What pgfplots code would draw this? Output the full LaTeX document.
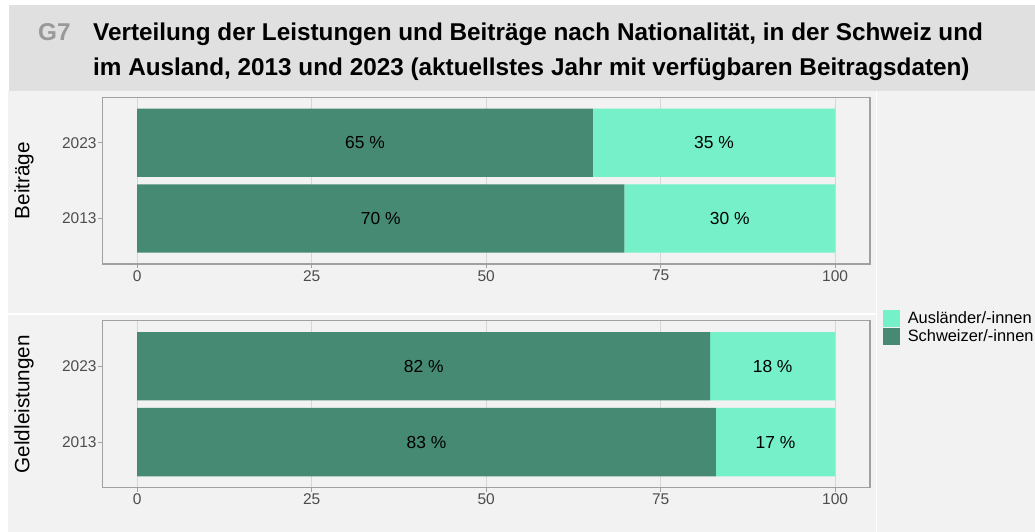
\documentclass[border=0pt]{standalone}
\usepackage{fontspec}
\setmainfont{Liberation Sans}
\usepackage{pgfplots}
\pgfplotsset{compat=1.18}

\definecolor{chdark}{HTML}{468A73}
\definecolor{chlight}{HTML}{75F0C8}
\definecolor{bandgrey}{HTML}{E0E0E0}
\definecolor{panelbg}{HTML}{F2F2F2}
\definecolor{boxgrey}{HTML}{A0A0A0}
\definecolor{gridgrey}{HTML}{D6D6D6}
\definecolor{ticktext}{HTML}{4D4D4D}

\pgfplotsset{
  panel/.style={
    scale only axis,
    width=767.7pt,
    anchor=south west,
    xmin=-5, xmax=105,
    ymin=0.4, ymax=2.6,
    xtick={0,25,50,75,100},
    ytick={1,2},
    yticklabels={2013,2023},
    tick pos=left,
    tick align=outside,
    major tick length=4pt,
    tick style={draw=boxgrey, line width=0.8pt},
    axis line style={draw=boxgrey, line width=1.3pt},
    xmajorgrids,
    grid style={draw=gridgrey, line width=1pt},
    /pgf/number format/assume math mode=true,
    ticklabel style={font=\fontsize{15.5}{18}\selectfont, text=ticktext},
    yticklabel style={inner sep=1.5pt},
    xticklabel style={inner sep=2pt},
    clip=false,
  },
  bars/.style={
    panel,
    xbar stacked,
    bar width=0.9,
    every axis y label/.style={at={(axis description cs:-0.102,0.5)}, rotate=90,
      anchor=center, font=\fontsize{20.7}{24}\selectfont},
  },
  labels/.style={
    panel,
    hide axis,
    nodes near coords,
    point meta=explicit symbolic,
    every node near coord/.style={anchor=center, font=\fontsize{17.4}{20}\selectfont, text=black},
  },
}

\begin{document}
\begin{tikzpicture}
\useasboundingbox (0pt,0pt) rectangle (1035pt,532pt);
\fill[white] (0pt,0pt) rectangle (1035pt,532pt);
\fill[bandgrey] (9pt,441pt) rectangle (1035pt,527pt);
\fill[panelbg] (8pt,0pt) rectangle (1035pt,441pt);
\draw[white, line width=1.5pt] (8pt,218pt) -- (876.7pt,218pt);
\draw[white, line width=1.5pt] (876.7pt,0pt) -- (876.7pt,441pt);

\node[anchor=base west, text=black!40, inner sep=0pt, font=\bfseries\fontsize{24.3}{28}\selectfont] at (38pt,491pt) {G7};
\node[anchor=base west, font=\bfseries\fontsize{24.3}{28}\selectfont, inner sep=0pt] at (93pt,491pt) {Verteilung der Leistungen und Beiträge nach Nationalität, in der Schweiz und};
\node[anchor=base west, font=\bfseries\fontsize{24.3}{28}\selectfont, inner sep=0pt] at (93pt,456pt) {im Ausland, 2013 und 2023 (aktuellstes Jahr mit verfügbaren Beitragsdaten)};

% Beiträge
\begin{axis}[bars, at={(102.3pt,268pt)}, height=166.7pt, ylabel={Beiträge}]
\addplot[fill=chdark, draw=none] coordinates {(69.8,1) (65.3,2)};
\addplot[fill=chlight, draw=none] coordinates {(30.2,1) (34.7,2)};
\end{axis}
\begin{axis}[labels, at={(102.3pt,268pt)}, height=166.7pt]
\addplot[draw=none, mark=none] coordinates {(34.9,1) [70 \%] (32.65,2) [65 \%] (84.9,1) [30 \%] (82.65,2) [35 \%]};
\end{axis}

% Geldleistungen
\begin{axis}[bars, at={(102.3pt,44.3pt)}, height=167pt, ylabel={Geldleistungen},
  reverse legend,
  legend cell align=left,
  legend style={at={(axis description cs:1.017,1.068)}, anchor=north west,
    draw=none, fill=none, inner sep=0pt, row sep=1pt,
    font=\fontsize{16.4}{17}\selectfont,
    nodes={inner sep=0pt, text depth=0pt},
    /tikz/every odd column/.style={column sep=7.5pt}},
  legend image code/.code={\fill[#1] (0pt,-8.5pt) rectangle (17pt,8.5pt);}]
\addplot[fill=chdark, draw=none] coordinates {(82.9,1) (82.1,2)};
\addlegendentry{Schweizer/-innen}
\addplot[fill=chlight, draw=none] coordinates {(17.1,1) (17.9,2)};
\addlegendentry{Ausländer/-innen}
\end{axis}
\begin{axis}[labels, at={(102.3pt,44.3pt)}, height=167pt]
\addplot[draw=none, mark=none] coordinates {(41.45,1) [83 \%] (41.05,2) [82 \%] (91.45,1) [17 \%] (91.05,2) [18 \%]};
\end{axis}
\end{tikzpicture}
\end{document}
